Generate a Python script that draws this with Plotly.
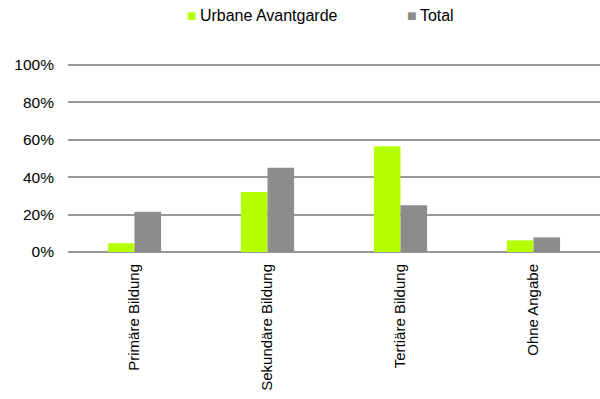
import plotly.graph_objects as go

categories = ["Primäre Bildung", "Sekundäre Bildung", "Tertiäre Bildung", "Ohne Angabe"]
urbane = [0.047, 0.32, 0.565, 0.062]
total = [0.215, 0.45, 0.25, 0.078]
series_names = ["Urbane Avantgarde", "Total"]
colors = ["#B5FF00", "#8C8C8C"]
y_ticks = [0, 0.2, 0.4, 0.6, 0.8, 1.0]

FONT = dict(family="Liberation Sans, Arial, sans-serif", size=15.5, color="#000000")
LFONT = dict(family="Liberation Sans, Arial, sans-serif", size=16, color="#000000")
XFONT = dict(family="Liberation Sans, Arial, sans-serif", size=15, color="#000000")

fig = go.Figure()
for name, vals, col in zip(series_names, [urbane, total], colors):
    fig.add_trace(go.Bar(x=categories, y=vals, name=name, marker=dict(color=col, line=dict(width=0)),
                         showlegend=False))
    fig.add_trace(go.Scatter(x=[None], y=[None], mode="markers",
                             name=f"<span style='color:{col}'>■</span>\u2009{name}",
                             marker=dict(symbol="square", size=1, color="rgba(0,0,0,0)")))

fig.update_layout(
    width=600, height=399,
    margin=dict(l=68, r=0, t=61, b=147),
    paper_bgcolor="white", plot_bgcolor="white",
    font=FONT,
    barmode="group", bargap=0.6, bargroupgap=0,
    legend=dict(orientation="h", xref="container", yref="container",
                x=0.245, xanchor="left", y=0.962, yanchor="middle",
                entrywidth=175, entrywidthmode="pixels",
                itemwidth=30, font=LFONT, bgcolor="rgba(0,0,0,0)"),
)
fig.update_xaxes(tickangle=-90, showgrid=False, showline=False, ticks="",
                 tickfont=XFONT, ticklabelstandoff=8)
fig.update_yaxes(range=[0, 1.02], tickvals=y_ticks, tickformat=".0%", showgrid=True,
                 gridcolor="#999999", gridwidth=1.6, zeroline=True, zerolinecolor="#999999",
                 zerolinewidth=1.6, showline=False, ticks="", tickfont=FONT,
                 ticklabelstandoff=13)

fig.write_html("out.html")
